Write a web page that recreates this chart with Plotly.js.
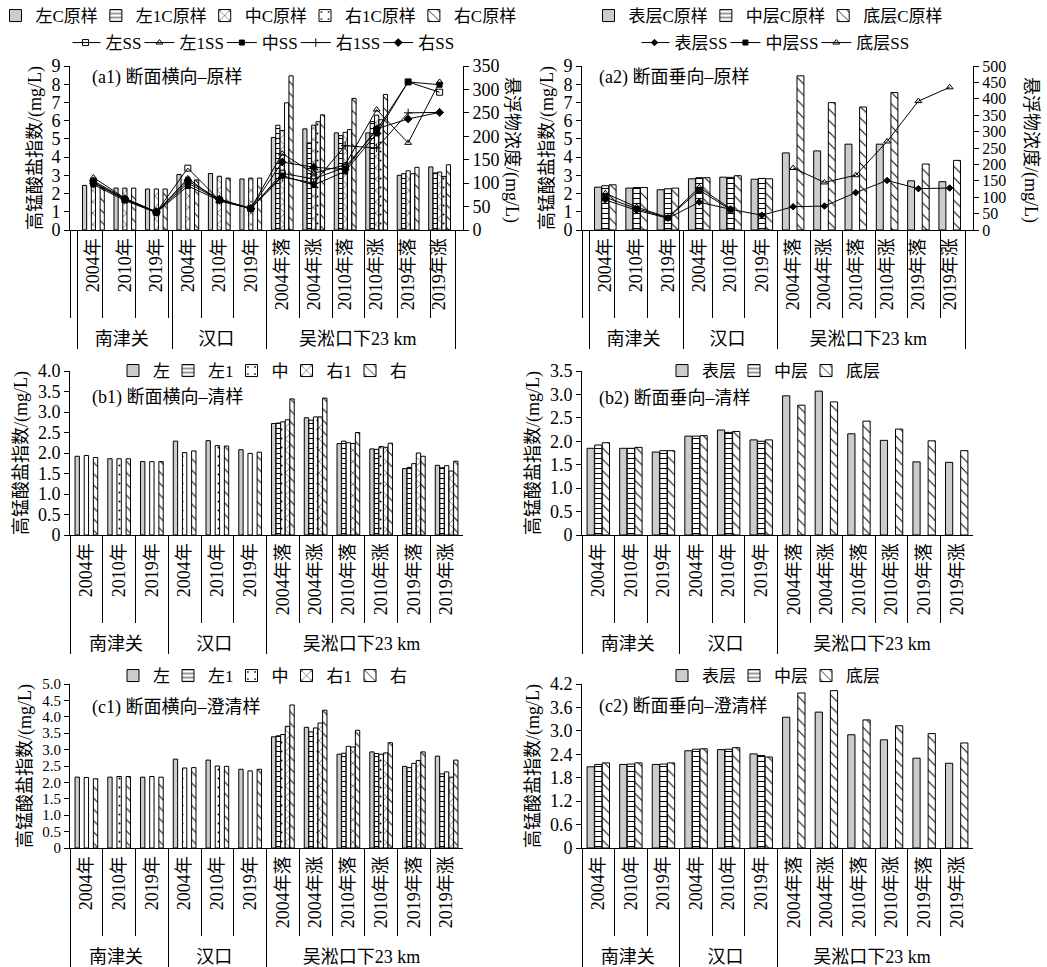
<!DOCTYPE html>
<html><head><meta charset="utf-8">
<script src="https://cdn.plot.ly/plotly-3.0.1.min.js"></script>
<style>html,body{margin:0;padding:0;background:#fff}</style>
</head><body><div id="chart" style="width:1047px;height:967px"></div>
<script>
// ---------- categories ----------
const sites = ['南津关','南津关','南津关','汉口','汉口','汉口','吴淞口下23 km','吴淞口下23 km','吴淞口下23 km','吴淞口下23 km','吴淞口下23 km','吴淞口下23 km'];
const periods = ['2004年','2010年','2019年','2004年','2010年','2019年','2004年落','2004年涨','2010年落','2010年涨','2019年落','2019年涨'];

// ---------- (a1) 断面横向-原样 ----------
const a1Left   = [2.45,2.30,2.25,3.05,3.10,2.80,5.08,5.55,5.33,5.33,3.00,3.46];
const a1Left1  = [null,null,null,null,null,null,5.75,4.78,5.18,5.95,3.09,3.13];
const a1Mid    = [2.48,2.30,2.25,2.90,2.95,2.85,5.46,5.75,5.36,6.30,3.25,3.18];
const a1Right1 = [null,null,null,null,null,null,6.98,5.94,5.51,6.05,3.09,2.94];
const a1Right  = [2.32,2.30,2.25,2.75,2.85,2.85,8.46,6.32,7.22,7.44,3.44,3.58];
const a1SSLeft   = [102,65,38,132,64,46,121,109,134,213,316,294];
const a1SSLeft1  = [112,68,38,110,62,46,163,121,139,257,186,316];
const a1SSMid    = [97,63,37,94,63,46,116,96,125,206,316,310];
const a1SSRight1 = [100,66,38,100,65,46,113,100,180,175,250,251];
const a1SSRight  = [105,67,39,105,66,46,145,134,129,216,237,251];

// ---------- (a2) 断面垂向-原样 ----------
const a2Surf = [2.35,2.30,2.21,2.81,2.90,2.79,4.23,4.34,4.71,4.71,2.70,2.65];
const a2Midl = [2.43,2.33,2.26,2.87,2.89,2.83,null,null,null,null,null,null];
const a2Bot  = [2.48,2.33,2.30,2.87,2.98,2.81,8.46,6.99,6.75,7.54,3.62,3.82];
const a2SSSurf = [92,60,36,85,63,45,71,73,114,151,126,128];
const a2SSMidl = [100,65,37,122,62,null,null,null,null,null,null,null];
const a2SSBot  = [112,70,38,130,65,null,189,145,167,270,393,435];

// ---------- (b1) 断面横向-清样 ----------
const b1Left   = [1.92,1.86,1.79,2.29,2.30,2.08,2.72,2.86,2.23,2.10,1.62,1.70];
const b1Left1  = [null,null,null,null,null,null,2.73,2.80,2.29,2.09,1.65,1.64];
const b1Mid    = [1.94,1.86,1.79,2.01,2.18,1.99,2.76,2.88,2.25,2.16,1.74,1.69];
const b1Right1 = [null,null,null,null,null,null,2.81,2.88,2.23,2.14,2.00,1.56];
const b1Right  = [1.89,1.86,1.79,2.05,2.17,2.02,3.32,3.34,2.50,2.24,1.92,1.80];

// ---------- (b2) 断面垂向-清样 ----------
const b2Surf = [1.85,1.85,1.77,2.11,2.24,2.03,2.97,3.07,2.16,2.02,1.56,1.55];
const b2Midl = [1.92,1.85,1.80,2.11,2.19,2.00,null,null,null,null,null,null];
const b2Bot  = [1.97,1.87,1.80,2.12,2.21,2.03,2.77,2.84,2.43,2.26,2.01,1.80];

// ---------- (c1) 断面横向-澄清样 ----------
const c1Left   = [2.16,2.16,2.16,2.71,2.68,2.40,3.39,3.68,2.86,2.93,2.49,2.80];
const c1Left1  = [null,null,null,null,null,null,3.42,3.54,2.89,2.88,2.45,2.26];
const c1Mid    = [2.15,2.18,2.18,2.44,2.50,2.35,3.46,3.66,3.10,2.86,2.58,2.32];
const c1Right1 = [null,null,null,null,null,null,3.71,3.81,3.08,2.90,2.67,2.16];
const c1Right  = [2.11,2.18,2.16,2.45,2.49,2.40,4.36,4.20,3.59,3.21,2.93,2.68];

// ---------- (c2) 断面垂向-澄清样 ----------
const c2Surf = [2.08,2.14,2.14,2.49,2.52,2.41,3.35,3.48,2.90,2.77,2.30,2.17];
const c2Midl = [2.14,2.15,2.15,2.53,2.53,2.37,null,null,null,null,null,null];
const c2Bot  = [2.18,2.18,2.18,2.54,2.57,2.33,3.97,4.03,3.28,3.13,2.93,2.69];

// ---------- tick labels ----------
const b1TickVals = [0,0.5,1.0,1.5,2.0,2.5,3.0,3.5,4.0];
const b1TickText = ['0','0.5','1.0','1.5','2.0','2.5','3.0','3.5','4.0'];
const b2TickVals = [0,0.5,1.0,1.5,2.0,2.5,3.0,3.5];
const b2TickText = ['0','0.5','1.0','1.5','2.0','2.5','3.0','3.5'];
const c1TickVals = [0,0.5,1.0,1.5,2.0,2.5,3.0,3.5,4.0,4.5,5.0];
const c1TickText = ['0','0.5','1.0','1.5','2.0','2.5','3.0','3.5','4.0','4.5','5.0'];
const c2TickVals = [0,0.6,1.2,1.8,2.4,3.0,3.6,4.2];
const c2TickText = ['0','0.6','1.2','1.8','2.4','3.0','3.6','4.2'];

// ---------- styles ----------
const FONT = '"Liberation Serif", "Noto Sans CJK SC", serif';
const X = [sites, periods];
const catRange = [-0.5, periods.length - 0.5];
const styles = {
  gray:  {color:'#cccccc', line:{color:'black', width:1}},
  hline: {color:'white', line:{color:'black', width:1}, pattern:{shape:'-', size:5, solidity:0.2, fgcolor:'black', bgcolor:'white', fillmode:'replace'}},
  cross: {color:'white', line:{color:'black', width:1}, pattern:{shape:'x', size:8, solidity:0.12, fgcolor:'black', bgcolor:'white', fillmode:'replace'}},
  dots:  {color:'white', line:{color:'black', width:1}, pattern:{shape:'.', size:9, solidity:0.04, fgcolor:'black', bgcolor:'white', fillmode:'replace'}},
  diag:  {color:'white', line:{color:'black', width:1}, pattern:{shape:'\\', size:8, solidity:0.12, fgcolor:'black', bgcolor:'white', fillmode:'replace'}}
};
function bar(name, y, st, xa, ya, lg){
  return {type:'bar', name:name, x:X, y:y, marker:styles[st], xaxis:xa, yaxis:ya, legend:lg, hoverinfo:'skip'};
}
function line(name, y, sym, size, xa, ya, lg){
  return {type:'scatter', mode:'lines+markers', name:name, x:X, y:y, xaxis:xa, yaxis:ya, legend:lg,
    line:{color:'black', width:1}, connectgaps:false,
    marker:{symbol:sym, size:size, color:'black', line:{color:'black', width:1}}, hoverinfo:'skip'};
}
function tickHelper(xa, ya, y){
  return {type:'scatter', mode:'none', x:X, y:y, xaxis:xa, yaxis:ya, showlegend:false, hoverinfo:'skip'};
}

const data = [
  bar('左C原样', a1Left, 'gray', 'x', 'y', 'legend'),
  bar('左1C原样', a1Left1, 'hline', 'x', 'y', 'legend'),
  bar('中C原样', a1Mid, 'cross', 'x', 'y', 'legend'),
  bar('右1C原样', a1Right1, 'dots', 'x', 'y', 'legend'),
  bar('右C原样', a1Right, 'diag', 'x', 'y', 'legend'),
  line('左SS', a1SSLeft, 'square-open', 6, 'x', 'y2', 'legend2'),
  line('左1SS', a1SSLeft1, 'triangle-up-open', 6, 'x', 'y2', 'legend2'),
  line('中SS', a1SSMid, 'square', 5, 'x', 'y2', 'legend2'),
  line('右1SS', a1SSRight1, 'cross-thin', 6, 'x', 'y2', 'legend2'),
  line('右SS', a1SSRight, 'diamond', 6, 'x', 'y2', 'legend2'),

  bar('表层C原样', a2Surf, 'gray', 'x2', 'y3', 'legend3'),
  bar('中层C原样', a2Midl, 'hline', 'x2', 'y3', 'legend3'),
  bar('底层C原样', a2Bot, 'diag', 'x2', 'y3', 'legend3'),
  line('表层SS', a2SSSurf, 'diamond', 5, 'x2', 'y4', 'legend4'),
  line('中层SS', a2SSMidl, 'square', 5, 'x2', 'y4', 'legend4'),
  line('底层SS', a2SSBot, 'triangle-up-open', 6, 'x2', 'y4', 'legend4'),

  bar('左', b1Left, 'gray', 'x3', 'y5', 'legend5'),
  bar('左1', b1Left1, 'hline', 'x3', 'y5', 'legend5'),
  bar('中', b1Mid, 'dots', 'x3', 'y5', 'legend5'),
  bar('右1', b1Right1, 'cross', 'x3', 'y5', 'legend5'),
  bar('右', b1Right, 'diag', 'x3', 'y5', 'legend5'),

  bar('表层', b2Surf, 'gray', 'x4', 'y6', 'legend6'),
  bar('中层', b2Midl, 'hline', 'x4', 'y6', 'legend6'),
  bar('底层', b2Bot, 'diag', 'x4', 'y6', 'legend6'),

  bar('左', c1Left, 'gray', 'x5', 'y7', 'legend7'),
  bar('左1', c1Left1, 'hline', 'x5', 'y7', 'legend7'),
  bar('中', c1Mid, 'dots', 'x5', 'y7', 'legend7'),
  bar('右1', c1Right1, 'cross', 'x5', 'y7', 'legend7'),
  bar('右', c1Right, 'diag', 'x5', 'y7', 'legend7'),

  bar('表层', c2Surf, 'gray', 'x6', 'y8', 'legend8'),
  bar('中层', c2Midl, 'hline', 'x6', 'y8', 'legend8'),
  bar('底层', c2Bot, 'diag', 'x6', 'y8', 'legend8'),

  tickHelper('x7', 'y', a1Left), tickHelper('x8', 'y3', a2Surf),
  tickHelper('x9', 'y5', b1Left), tickHelper('x10', 'y6', b2Surf),
  tickHelper('x11', 'y7', c1Left), tickHelper('x12', 'y8', c2Surf)
];

const W = 1047, H = 967;
const px = v => v / W, py = v => 1 - v / H;
const dX1 = [px(70), px(463)], dX2 = [px(582), px(973)];
const dYa = [py(230), py(66)], dYb = [py(535), py(371)], dYc = [py(848), py(684)];

function xMain(domain, anchor){
  return {type:'multicategory', domain:domain, anchor:anchor, showline:true, linecolor:'black', linewidth:1,
    ticks:'', showdividers:true, dividercolor:'black', dividerwidth:1, tickangle:-90,
    tickfont:{size:18}, showgrid:false, zeroline:false, fixedrange:true};
}
function xTicks(over, anchor){
  return {type:'multicategory', overlaying:over, anchor:anchor, range:catRange, autorange:false,
    showline:false, ticks:'outside', tickson:'boundaries', ticklen:87,
    tickcolor:'black', tickwidth:1, showticklabels:false, showdividers:false, showgrid:false, zeroline:false, fixedrange:true};
}
function yTitle(){ return {text:'高锰酸盐指数/(mg/L)', font:{size:18}, standoff:5}; }
function yLeft(domain, anchor, range, extra){
  return Object.assign({domain:domain, anchor:anchor, range:range, showline:true, linecolor:'black', linewidth:1,
    ticks:'outside', ticklen:5, tickcolor:'black', showgrid:false, zeroline:false, tickfont:{size:18},
    title:yTitle(), fixedrange:true}, extra || {});
}
function yRight(over, anchor, range, fs){
  return {overlaying:over, anchor:anchor, side:'right', range:range, dtick:50, showline:true, linecolor:'black', linewidth:1,
    ticks:'outside', ticklen:5, tickcolor:'black', showgrid:false, zeroline:false, tickfont:{size:fs}, fixedrange:true};
}
function lg(x, y){
  return {orientation:'h', x:px(x), y:py(y), xanchor:'center', yanchor:'middle', bgcolor:'rgba(0,0,0,0)',
    font:{size:17}, tracegroupgap:0, traceorder:'normal', indentation:-7};
}
function panelTitle(text, x, y){
  return {text:text, xref:'paper', yref:'paper', x:px(x), y:py(y), xanchor:'left', yanchor:'middle', showarrow:false, font:{size:18}};
}

const layout = {
  width:W, height:H, margin:{l:0, r:0, t:0, b:0, autoexpand:false}, paper_bgcolor:'white', plot_bgcolor:'rgba(0,0,0,0)',
  font:{family:FONT, size:18, color:'black'},
  barmode:'group', bargap:0.3, bargroupgap:0.05,
  xaxis: xMain(dX1, 'y'), xaxis2: xMain(dX2, 'y3'), xaxis3: xMain(dX1, 'y5'),
  xaxis4: xMain(dX2, 'y6'), xaxis5: xMain(dX1, 'y7'), xaxis6: xMain(dX2, 'y8'),
  xaxis7: xTicks('x', 'y'), xaxis8: xTicks('x2', 'y3'), xaxis9: xTicks('x3', 'y5'),
  xaxis10: xTicks('x4', 'y6'), xaxis11: xTicks('x5', 'y7'), xaxis12: xTicks('x6', 'y8'),
  yaxis: yLeft(dYa, 'x', [0, 9], {dtick:1}),
  yaxis2: yRight('y', 'x', [0, 350], 18),
  yaxis3: yLeft(dYa, 'x2', [0, 9], {dtick:1}),
  yaxis4: yRight('y3', 'x2', [0, 500], 16),
  yaxis5: yLeft(dYb, 'x3', [0, 4], {tickvals:b1TickVals, ticktext:b1TickText}),
  yaxis6: yLeft(dYb, 'x4', [0, 3.5], {tickvals:b2TickVals, ticktext:b2TickText}),
  yaxis7: yLeft(dYc, 'x5', [0, 5], {tickvals:c1TickVals, ticktext:c1TickText, tickfont:{size:15}}),
  yaxis8: yLeft(dYc, 'x6', [0, 4.2], {tickvals:c2TickVals, ticktext:c2TickText}),
  legend: lg(262, 16), legend2: lg(266, 43), legend3: lg(772, 16), legend4: lg(778, 43),
  legend5: lg(266, 371), legend6: lg(777, 371), legend7: lg(266, 676), legend8: lg(777, 676),
  annotations: [
    panelTitle('(a1) 断面横向–原样', 90, 77),
    panelTitle('(a2) 断面垂向–原样', 597, 77),
    panelTitle('(b1) 断面横向–清样', 90, 397),
    panelTitle('(b2) 断面垂向–清样', 597, 398),
    panelTitle('(c1) 断面横向–澄清样', 90, 707),
    panelTitle('(c2) 断面垂向–澄清样', 597, 706),
    {text:'悬浮物浓度/(mg/L)', xref:'paper', yref:'paper', x:px(511), y:py(150), textangle:90, showarrow:false, font:{size:18}, xanchor:'center', yanchor:'middle'},
    {text:'悬浮物浓度/(mg/L)', xref:'paper', yref:'paper', x:px(1030), y:py(150), textangle:90, showarrow:false, font:{size:18}, xanchor:'center', yanchor:'middle'}
  ]
};

Plotly.newPlot('chart', data, layout, {displayModeBar:false, responsive:false});
</script>
</body></html>
